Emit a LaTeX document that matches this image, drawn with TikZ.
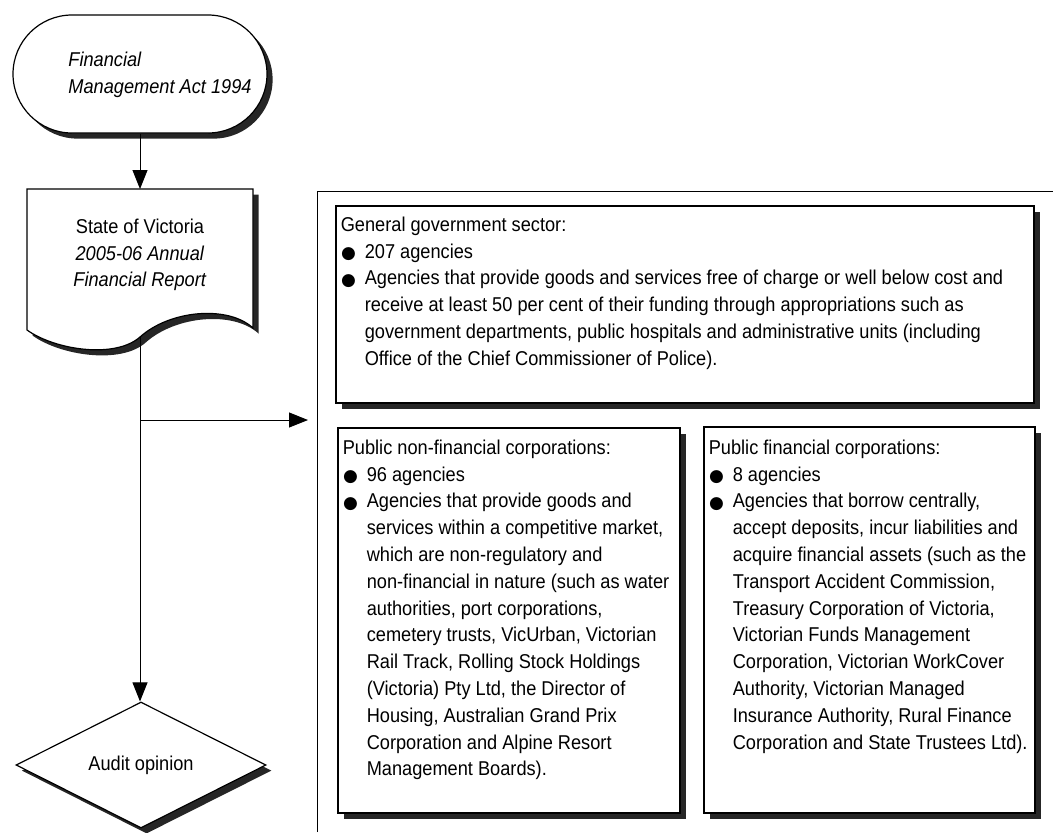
\documentclass[tikz,border=0pt]{standalone}
\usepackage{fontspec}
\setmainfont{Liberation Sans}[FakeStretch=0.91]
\newfontfamily\dejavu{DejaVu Sans}
\usetikzlibrary{arrows.meta,shapes.misc,shapes.geometric,shadows,positioning}

% bullet and hanging indent
\newcommand{\bl}{\makebox[12pt][l]{\hspace{0.2pt}\raisebox{-0.2pt}{\dejavu\fontsize{8.5}{8.5}\selectfont ●}}}
\newcommand{\hg}{\hspace*{12pt}}

\tikzset{
  txt/.style={font=\fontsize{10}{13.4}\selectfont, inner sep=0pt},
  shd/.style={drop shadow={fill=black!85, opacity=1, shadow xshift=2.8pt, shadow yshift=-2.8pt}},
  sector/.style={draw, line width=0.6pt, fill=white, shd, inner sep=0pt},
  arr/.style={line width=0.5pt, -{Triangle[length=9.5pt,width=7.5pt]}},
}

\begin{document}
\begin{tikzpicture}[x=0.5pt,y=-0.5pt]
\useasboundingbox (0,0) rectangle (1053,832);

% left column
\node[sector, rounded rectangle, minimum width=127pt, minimum height=59pt] (fma) at (140,74) {};
\node[txt, align=left, anchor=north west] (fmatext) at (68,52) {\textit{Financial}\\\textit{Management Act 1994}};

\draw[line width=0.6pt, fill=white, shd] (27,189) -- (253,189) -- (253,328)
  .. controls (228,305) and (170,310) .. (140,337)
  .. controls (115,359) and (55,350) .. (27,330) -- cycle;
\coordinate (reptop) at (140,189);
\coordinate (repbot) at (140,337);
\node[txt, align=center] (rep) at (140,255) {State of Victoria\\\textit{2005-06 Annual}\\\textit{Financial Report}};

\node[sector, txt, diamond, minimum width=125pt, minimum height=63pt] (audit) at (141,765) {Audit opinion};

\coordinate (br) at (140,420);
\coordinate (brend) at (308,420);

\draw[arr] (fma) -- (reptop);
\draw[arr] (repbot) -- (repbot |- audit.north);
\draw[arr] (br) -- (brend);

% sectors
\draw[line width=0.5pt] (317,832) -- (317,191) -- (1053,191);

\node[sector, minimum width=349pt, minimum height=98.5pt] (ggs) at (685,304.5) {};
\node[sector, minimum width=171pt, minimum height=192.5pt] (pnfc) at (509,620.5) {};
\node[sector, minimum width=165.5pt, minimum height=193pt] (pfc) at (869.5,620) {};

\node[txt, align=left, anchor=north west] (ggstext) at ([shift={(5,11)}]ggs.north west) {General government sector:\\
\bl 207 agencies\\
\bl Agencies that provide goods and services free of charge or well below cost and\\
\hg receive at least 50 per cent of their funding through appropriations such as\\
\hg government departments, public hospitals and administrative units (including\\
\hg Office of the Chief Commissioner of Police).};

\node[txt, align=left, anchor=north west] (pnfctext) at ([shift={(5,12)}]pnfc.north west) {Public non-financial corporations:\\
\bl 96 agencies\\
\bl Agencies that provide goods and\\
\hg services within a competitive market,\\
\hg which are non-regulatory and\\
\hg non-financial in nature (such as water\\
\hg authorities, port corporations,\\
\hg cemetery trusts, VicUrban, Victorian\\
\hg Rail Track, Rolling Stock Holdings\\
\hg (Victoria) Pty Ltd, the Director of\\
\hg Housing, Australian Grand Prix\\
\hg Corporation and Alpine Resort\\
\hg Management Boards).};

\node[txt, align=left, anchor=north west] (pfctext) at ([shift={(5,13)}]pfc.north west) {Public financial corporations:\\
\bl 8 agencies\\
\bl Agencies that borrow centrally,\\
\hg accept deposits, incur liabilities and\\
\hg acquire financial assets (such as the\\
\hg Transport Accident Commission,\\
\hg Treasury Corporation of Victoria,\\
\hg Victorian Funds Management\\
\hg Corporation, Victorian WorkCover\\
\hg Authority, Victorian Managed\\
\hg Insurance Authority, Rural Finance\\
\hg Corporation and State Trustees Ltd).};

\end{tikzpicture}
\end{document}
